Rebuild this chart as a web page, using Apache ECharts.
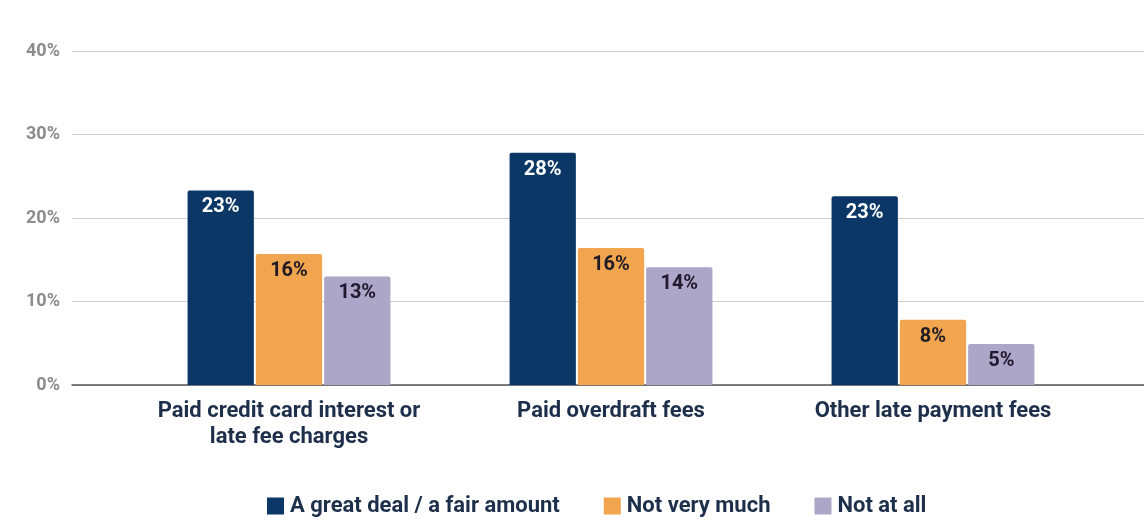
<!DOCTYPE html>
<html>
<head>
<meta charset="utf-8">
<style>
  html, body { margin: 0; padding: 0; background: #fff; }
  #chart { width: 1144px; height: 532px; }
</style>
<script src="https://cdn.jsdelivr.net/npm/echarts@6/dist/echarts.min.js"></script>
</head>
<body>
<div id="chart"></div>
<script>
// categories and series values (percent)
const categories = ['Paid credit card interest or\nlate fee charges', 'Paid overdraft fees', 'Other late payment fees'];
const seriesNames = ['A great deal / a fair amount', 'Not very much', 'Not at all'];
const greatDeal = [23.3, 27.8, 22.6];
const notVeryMuch = [15.7, 16.4, 7.8];
const notAtAll = [13.0, 14.1, 4.9];
const yTicks = [0, 10, 20, 30, 40];

const colors = ['#0a3766', '#f1a54f', '#aca6c9'];
const labelColors = ['#ffffff', '#1f1a24', '#1f1a2e'];
const fontFamily = 'Roboto, "Noto Sans", sans-serif';

const chart = echarts.init(document.getElementById('chart'), null, { renderer: 'canvas' });

function barSeries(name, data, i) {
   return {
      name: name,
      type: 'bar',
      xAxisIndex: 1,
      yAxisIndex: 1,
      data: data,
      barGap: '3%',
      barCategoryGap: '37%',
      itemStyle: { color: colors[i], borderRadius: [2, 2, 0, 0] },
      label: {
         show: true,
         position: 'insideTop',
         distance: 7,
         color: labelColors[i],
         fontFamily: fontFamily,
         fontWeight: 'bold',
         fontSize: 20,
         formatter: (p) => Math.round(p.value) + '%',
      },
   };
}

const option = {
   animation: false,
   backgroundColor: '#ffffff',
   legend: {
      left: 262,
      top: 490,
      itemWidth: 17,
      itemHeight: 17,
      itemGap: 44,
      icon: 'rect',
      textStyle: {
         color: '#1d2f4a',
         fontFamily: fontFamily,
         fontWeight: 'bold',
         fontSize: 22,
         padding: [0, 0, 0, 1],
      },
      data: seriesNames,
   },
   grid: [
      { left: 72, right: 0, top: 51, bottom: 147 },
      { left: 128, right: 50, top: 51, bottom: 147 },
   ],
   xAxis: [
      {
         type: 'category',
         gridIndex: 0,
         data: categories,
         axisLine: { show: true, lineStyle: { color: '#555555', width: 1.5 } },
         axisTick: { show: false },
         axisLabel: { show: false },
      },
      {
         type: 'category',
         gridIndex: 1,
         data: categories,
         axisLine: { show: false },
         axisTick: { show: false },
         axisLabel: {
            interval: 0,
            margin: 13,
            color: '#1d2f4a',
            fontFamily: fontFamily,
            fontWeight: 'bold',
            fontSize: 22,
            lineHeight: 26,
         },
      },
   ],
   yAxis: [
      {
         type: 'value',
         gridIndex: 0,
         min: yTicks[0],
         max: yTicks[yTicks.length - 1],
         interval: 10,
         axisLine: { show: false },
         axisTick: { show: false },
         axisLabel: {
            margin: 12,
            color: '#8c8c8c',
            fontFamily: fontFamily,
            fontWeight: 'bold',
            fontSize: 18,
            formatter: '{value}%',
         },
         splitLine: { show: true, lineStyle: { color: '#cfcfcf', width: 1.2 } },
      },
      {
         type: 'value',
         gridIndex: 1,
         min: yTicks[0],
         max: yTicks[yTicks.length - 1],
         interval: 10,
         show: false,
         splitLine: { show: false },
      },
   ],
   series: [
      barSeries(seriesNames[0], greatDeal, 0),
      barSeries(seriesNames[1], notVeryMuch, 1),
      barSeries(seriesNames[2], notAtAll, 2),
   ],
};

chart.setOption(option);
</script>
</body>
</html>
